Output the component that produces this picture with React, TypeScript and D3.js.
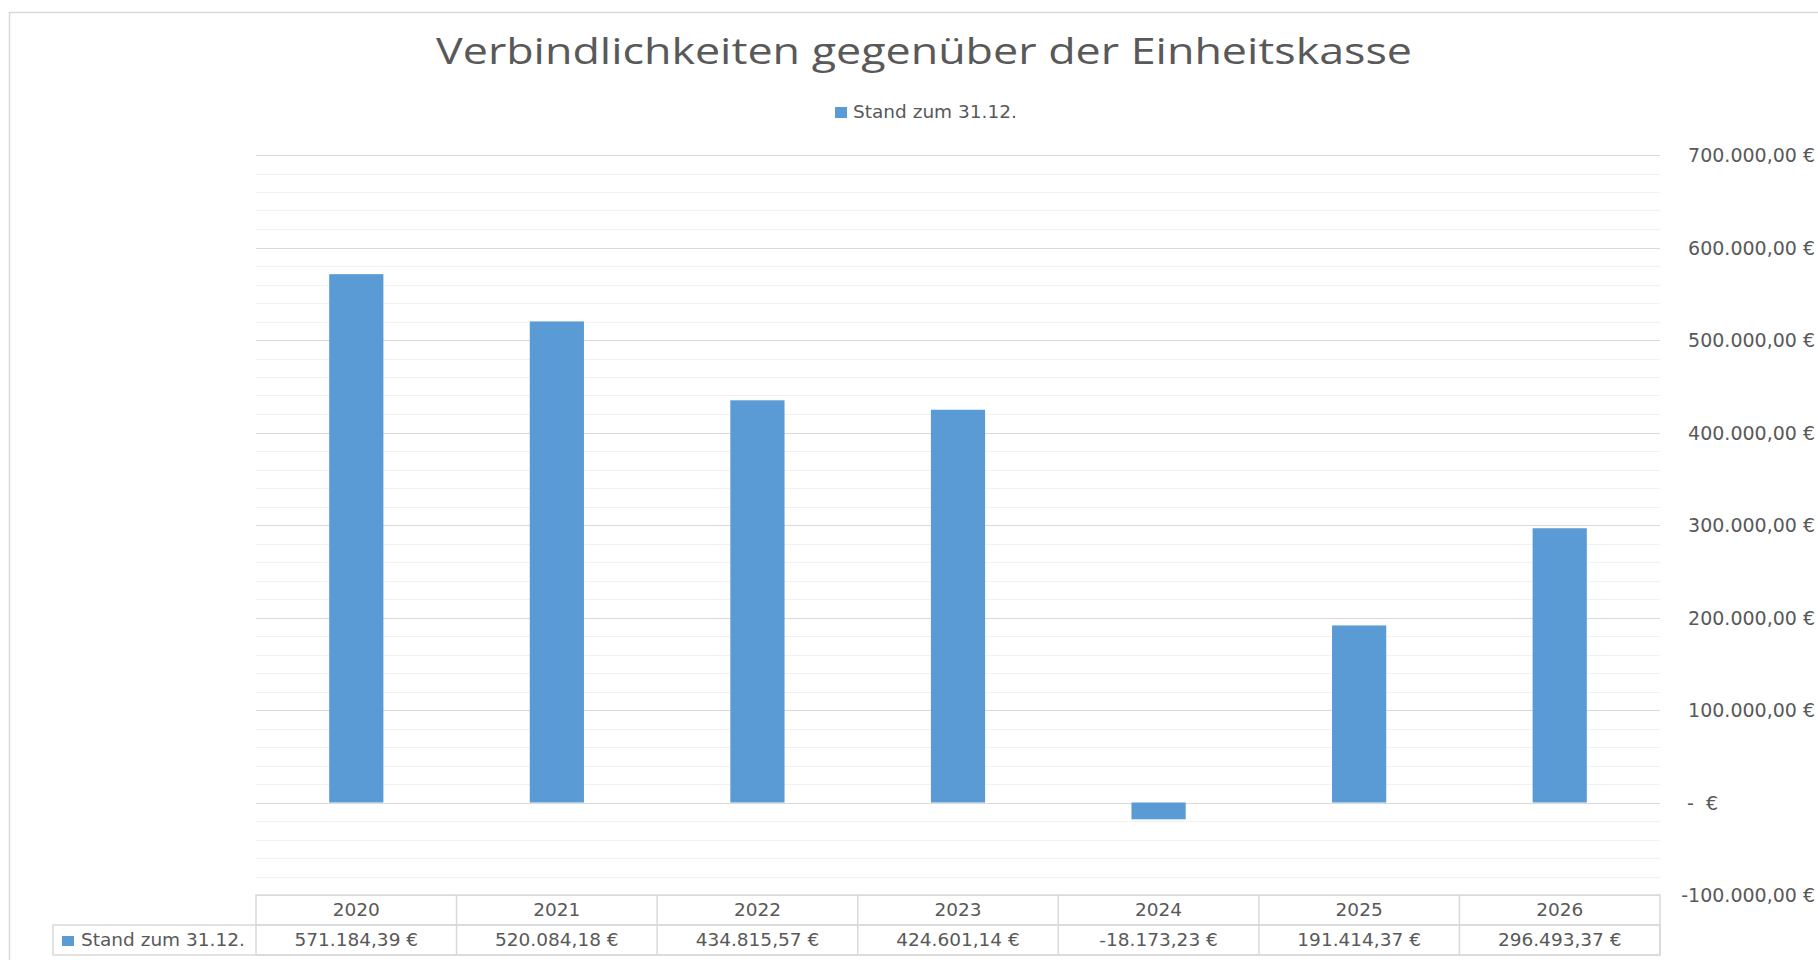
import React, { useEffect } from "react";
import * as d3 from "d3";

const categories = ["2020", "2021", "2022", "2023", "2024", "2025", "2026"];
const values = [571184.39, 520084.18, 434815.57, 424601.14, -18173.23, 191414.37, 296493.37];
const seriesName = "Stand zum 31.12.";
const title = "Verbindlichkeiten gegenüber der Einheitskasse";
const majorTicks = [-100000, 0, 100000, 200000, 300000, 400000, 500000, 600000, 700000];
const minorStep = 20000;

const W = 1818;
const H = 960;
const plotLeft = 256;
const plotRight = 1660;
const plotTop = 155;
const plotBottom = 895;
const rowH = 30;
const keyLeft = 53;

const BAR = "#5B9BD5";
const GRID = "#D9D9D9";
const MINOR = "#F2F2F2";
const TEXT = "#595959";
const SMALL_FONT = "'DejaVu Sans', Verdana, sans-serif";

const de = d3.formatLocale({
  decimal: ",",
  thousands: ".",
  grouping: [3],
  currency: ["", " €"],
  minus: "-",
});
const fmt = de.format(",.2f");
const euro = (v: number) => `${fmt(v)} €`;

export default function App() {
  useEffect(() => {
    document.body.style.margin = "0";
  }, []);

  const x = d3.scaleBand<string>().domain(categories).range([plotLeft, plotRight]).padding(0);
  const y = d3.scaleLinear().domain([-100000, 700000]).range([plotBottom, plotTop]);
  const bw = x.bandwidth();
  const barW = bw / 3.7;
  const minorTicks = d3.range(-100000, 700000 + 1, minorStep).filter((t) => t % 100000 !== 0);

  return (
    <svg width={W} height={H} style={{ display: "block", background: "#fff" }} fontFamily={SMALL_FONT}>
      <rect x={9.5} y={12.5} width={W + 20} height={H + 20} fill="#fff" stroke={GRID} strokeWidth={1.5} />

      <text
        x={924}
        y={64}
        textAnchor="middle"
        fontFamily="'Open Sans', sans-serif"
        fontSize={36}
        fill={TEXT}
        textLength={976}
        lengthAdjust="spacingAndGlyphs"
      >
        {title}
      </text>

      <rect x={835} y={107} width={12} height={11} fill={BAR} />
      <text x={853} y={118} fontSize={18.5} fill={TEXT}>
        {seriesName}
      </text>

      {minorTicks.map((t) => (
        <line key={`m${t}`} x1={plotLeft} x2={plotRight} y1={Math.round(y(t)) + 0.5} y2={Math.round(y(t)) + 0.5} stroke={MINOR} strokeWidth={1.2} />
      ))}
      {majorTicks.map((t) => (
        <line key={`g${t}`} x1={plotLeft} x2={plotRight} y1={Math.round(y(t)) + 0.5} y2={Math.round(y(t)) + 0.5} stroke={GRID} strokeWidth={1.2} />
      ))}

      {values.map((v, i) => {
        const cx = (x(categories[i]) as number) + bw / 2;
        const y0 = y(0);
        const yv = y(v);
        return (
          <rect
            key={categories[i]}
            x={cx - barW / 2}
            y={Math.min(y0, yv)}
            width={barW}
            height={Math.abs(yv - y0)}
            fill={BAR}
          />
        );
      })}

      {majorTicks.map((t) =>
        t === 0 ? (
          <text key={`l${t}`} x={1687} y={y(t) + 7} fontSize={19} fill={TEXT} style={{ whiteSpace: "pre" }}>
            {"-  €"}
          </text>
        ) : (
          <text key={`l${t}`} x={1815} y={y(t) + 7} textAnchor="end" fontSize={19} fill={TEXT}>
            {euro(t)}
          </text>
        )
      )}

      {/* data table */}
      <g fill="none" stroke={GRID} strokeWidth={1.5}>
        <rect x={plotLeft} y={plotBottom} width={plotRight - plotLeft} height={rowH * 2} />
        <rect x={keyLeft} y={plotBottom + rowH} width={plotRight - keyLeft} height={rowH} />
        <line x1={plotLeft} x2={plotRight} y1={plotBottom + rowH} y2={plotBottom + rowH} />
        {categories.map((c, i) =>
          i === 0 ? null : <line key={`v${c}`} x1={x(c)} x2={x(c)} y1={plotBottom} y2={plotBottom + rowH * 2} />
        )}
      </g>
      {categories.map((c, i) => {
        const cx = (x(c) as number) + bw / 2;
        return (
          <g key={`t${c}`} fill={TEXT} fontSize={18.5} textAnchor="middle">
            <text x={cx} y={plotBottom + 21}>{c}</text>
            <text x={cx} y={plotBottom + rowH + 21}>{euro(values[i])}</text>
          </g>
        );
      })}
      <rect x={62} y={plotBottom + rowH + 11} width={12} height={10} fill={BAR} />
      <text x={81} y={plotBottom + rowH + 21} fontSize={18.5} fill={TEXT}>
        {seriesName}
      </text>
    </svg>
  );
}
